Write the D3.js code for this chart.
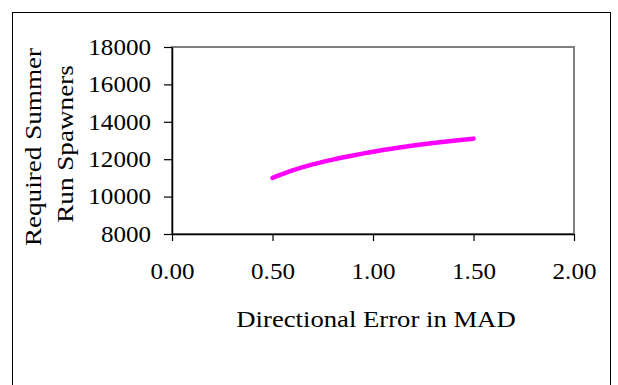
<!DOCTYPE html>
<html>
<head>
<meta charset="utf-8">
<script src="https://cdn.jsdelivr.net/npm/d3@7"></script>
<style>
  body { margin: 0; background: #fff; }
  text { font-family: "Liberation Serif", "Times New Roman", serif; fill: #000; }
</style>
</head>
<body>
<div id="chart"></div>
<script>
// data
var errorMAD = [0.5, 0.6, 0.7, 0.8, 0.9, 1.0, 1.1, 1.2, 1.3, 1.4, 1.5];
var spawners = [11000, 11400, 11720, 11980, 12200, 12400, 12570, 12730, 12870, 12990, 13100];
var xTicks = [0, 0.5, 1.0, 1.5, 2.0];
var yTicks = [8000, 10000, 12000, 14000, 16000, 18000];

var W = 618, H = 385;
var margin = {left: 172, right: 44, top: 47, bottom: 151},
    width = W - margin.left - margin.right,
    height = H - margin.top - margin.bottom;

// the source text is drawn a bit wider than its height suggests
var hStretch = 1.09;

function stretch(sel, k) {
    sel.each(function () {
        var len = this.getComputedTextLength();
        d3.select(this)
            .attr("textLength", len * k)
            .attr("lengthAdjust", "spacingAndGlyphs");
    });
}

var root = d3.select("#chart").append("svg")
    .attr("width", W)
    .attr("height", H);

// outer chart frame
root.append("rect")
    .attr("x", 12.5).attr("y", 12.5)
    .attr("width", 598).attr("height", 400)
    .attr("fill", "none")
    .attr("stroke", "#000")
    .attr("stroke-width", 1);

var svg = root.append("g")
    .attr("transform", "translate(" + margin.left + "," + margin.top + ")");

var x = d3.scaleLinear().domain([0, 2]).range([0, width]);
var y = d3.scaleLinear().domain([8000, 18000]).range([height, 0]);

// plot area border (gray top/right)
svg.append("rect")
    .attr("width", width).attr("height", height)
    .attr("fill", "none")
    .attr("stroke", "#808080")
    .attr("stroke-width", 2);

var xAxis = svg.append("g")
    .attr("transform", "translate(0," + height + ")")
    .call(d3.axisBottom(x).tickValues(xTicks).tickFormat(d3.format(".2f")).tickSizeInner(7).tickSizeOuter(0).tickPadding(22));

var yAxis = svg.append("g")
    .call(d3.axisLeft(y).tickValues(yTicks).tickFormat(d3.format("d")).tickSizeInner(8).tickSizeOuter(0).tickPadding(13));

[xAxis, yAxis].forEach(function (a) {
    a.select(".domain").attr("stroke", "#000").attr("stroke-width", 1.5);
    a.selectAll(".tick line").attr("stroke", "#000").attr("stroke-width", 1.2);
    a.selectAll(".tick text")
        .attr("font-family", "Liberation Serif")
        .attr("font-size", "23px")
        .attr("fill", "#000")
        .call(stretch, hStretch);
});
xAxis.selectAll(".tick text").attr("dy", "0.71em");

var line = d3.line()
    .curve(d3.curveMonotoneX)
    .x(function (d, i) { return x(errorMAD[i]); })
    .y(function (d) { return y(d); });

svg.append("path")
    .datum(spawners)
    .attr("d", line)
    .attr("fill", "none")
    .attr("stroke", "#ff00ff")
    .attr("stroke-width", 4.5)
    .attr("stroke-linecap", "round");

// axis titles
root.append("text")
    .attr("x", 376)
    .attr("y", 327)
    .attr("text-anchor", "middle")
    .attr("font-size", "23px")
    .text("Directional Error in MAD")
    .call(stretch, 1.16);

root.append("text")
    .attr("transform", "translate(41,147) rotate(-90)")
    .attr("text-anchor", "middle")
    .attr("font-size", "23px")
    .text("Required Summer")
    .call(stretch, 1.18);

root.append("text")
    .attr("transform", "translate(73,144) rotate(-90)")
    .attr("text-anchor", "middle")
    .attr("font-size", "23px")
    .text("Run Spawners")
    .call(stretch, 1.18);
</script>
</body>
</html>
